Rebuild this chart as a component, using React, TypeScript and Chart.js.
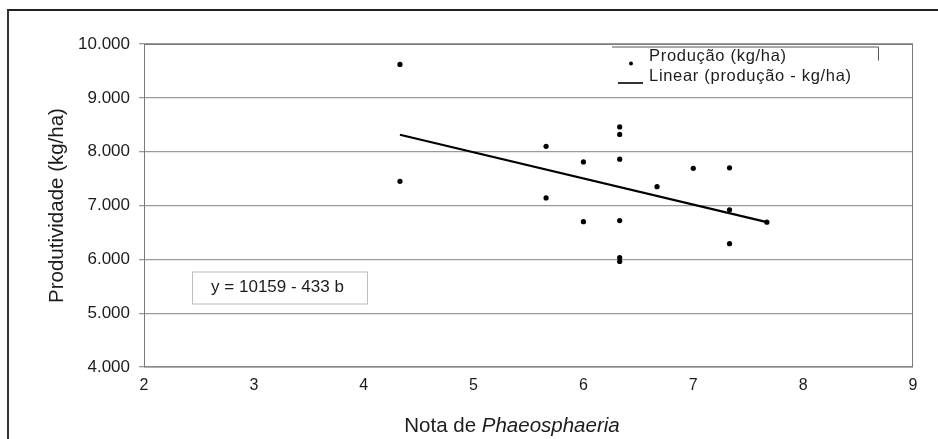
import React, { useEffect, useRef } from 'react';
import { Chart, registerables } from 'chart.js';

Chart.register(...registerables);

// ---- data ----
const notaX = [4.33, 4.33, 5.66, 5.66, 6.0, 6.0, 6.33, 6.33, 6.33, 6.33, 6.33, 6.33, 6.67, 7.0, 7.33, 7.33, 7.33, 7.67];
const producaoY = [9620, 7450, 8100, 7140, 7810, 6700, 8460, 8320, 7860, 6720, 6030, 5960, 7350, 7690, 7700, 6920, 6290, 6690];
const trendX = [4.33, 7.67];
const trendY = [8315, 6690];
const yTickLabels = ['4.000', '5.000', '6.000', '7.000', '8.000', '9.000', '10.000'];
const xTickLabels = ['2', '3', '4', '5', '6', '7', '8', '9'];
const seriesLabels = ['Produção (kg/ha)', 'Linear (produção - kg/ha)'];
const equationText = 'y = 10159 - 433 b';
const xTitleNormal = 'Nota de ';
const xTitleItalic = 'Phaeosphaeria';
const yTitle = 'Produtividade (kg/ha)';

const FONT = '"Liberation Sans", Arial, Helvetica, sans-serif';
const TEXT = '#1c1c1c';

const decorPlugin = {
  id: 'decor',
  afterDraw(chart: any) {
    const { ctx, chartArea: ca } = chart;
    ctx.save();
    // plot frame
    ctx.strokeStyle = '#7a7a7a';
    ctx.lineWidth = 1;
    ctx.strokeRect(ca.left + 0.5, ca.top + 0.5, ca.right - ca.left - 1, ca.bottom - ca.top - 0.5);

    // legend box
    const lx0 = ca.right - 301;
    const lx1 = ca.right - 35;
    const ly0 = ca.top + 2.5;
    const ly1 = ca.top + 53;
    ctx.fillStyle = '#ffffff';
    ctx.fillRect(lx0, ly0, lx1 - lx0, ly1 - ly0);
    ctx.strokeStyle = '#555';
    ctx.lineWidth = 1;
    ctx.beginPath();
    ctx.moveTo(lx0, ly0 + 0.5);
    ctx.lineTo(lx1 + 0.5, ly0 + 0.5);
    ctx.lineTo(lx1 + 0.5, ly0 + 14);
    ctx.stroke();

    // legend entries
    ctx.fillStyle = '#000';
    ctx.beginPath();
    ctx.arc(lx0 + 19, ly0 + 17, 2, 0, Math.PI * 2);
    ctx.fill();
    ctx.strokeStyle = '#000';
    ctx.lineWidth = 1.6;
    ctx.beginPath();
    ctx.moveTo(lx0 + 6, ly0 + 36.5);
    ctx.lineTo(lx0 + 31, ly0 + 36.5);
    ctx.stroke();
    ctx.fillStyle = TEXT;
    ctx.font = `16.5px ${FONT}`;
    ctx.textAlign = 'left';
    ctx.textBaseline = 'alphabetic';
    if ('letterSpacing' in ctx) (ctx as any).letterSpacing = '0.7px';
    ctx.fillText(seriesLabels[0], lx0 + 37, ly0 + 14.5);
    ctx.fillText(seriesLabels[1], lx0 + 37, ly0 + 34.5);
    if ('letterSpacing' in ctx) (ctx as any).letterSpacing = '0px';

    // equation box
    const ex = ca.left + 48;
    const ey = ca.top + 227.5;
    const ew = 175;
    const eh = 32;
    ctx.fillStyle = '#fff';
    ctx.fillRect(ex, ey, ew, eh);
    ctx.strokeStyle = '#bdbdbd';
    ctx.lineWidth = 1;
    ctx.strokeRect(ex + 0.5, ey + 0.5, ew, eh);
    ctx.fillStyle = TEXT;
    ctx.font = `17px ${FONT}`;
    ctx.textAlign = 'center';
    ctx.textBaseline = 'middle';
    ctx.fillText(equationText, ex + ew / 2 - 2, ey + eh / 2);

    // x axis title with italic genus name
    ctx.textBaseline = 'middle';
    ctx.textAlign = 'left';
    const fN = `20.5px ${FONT}`;
    const fI = `italic 20.5px ${FONT}`;
    ctx.font = fN;
    const w1 = ctx.measureText(xTitleNormal).width;
    ctx.font = fI;
    const w2 = ctx.measureText(xTitleItalic).width;
    const cx = ca.left + 368;
    const start = cx - (w1 + w2) / 2;
    const ty = 426;
    ctx.font = fN;
    ctx.fillText(xTitleNormal, start, ty);
    ctx.font = fI;
    ctx.fillText(xTitleItalic, start + w1, ty);
    ctx.restore();
  },
};

export default function App() {
  const canvasRef = useRef<HTMLCanvasElement | null>(null);

  useEffect(() => {
    const canvas = canvasRef.current;
    if (!canvas) return;
    const chart = new Chart(canvas, {
      type: 'scatter',
      data: {
        datasets: [
          {
            label: seriesLabels[0],
            data: notaX.map((x, i) => ({ x, y: producaoY[i] })),
            backgroundColor: '#000',
            borderColor: '#000',
            pointRadius: 2.6,
            pointBorderWidth: 0,
            showLine: false,
            order: 2,
          },
          {
            label: seriesLabels[1],
            data: trendX.map((x, i) => ({ x, y: trendY[i] })),
            borderColor: '#000',
            backgroundColor: '#000',
            borderWidth: 2.2,
            pointRadius: 0,
            showLine: true,
            order: 1,
          },
        ],
      },
      options: {
        responsive: false,
        animation: false,
        events: [],
        layout: { padding: { left: 41, right: 25, top: 44, bottom: 42 } },
        plugins: {
          legend: { display: false },
          tooltip: { enabled: false },
          title: { display: false },
        },
        scales: {
          x: {
            type: 'linear',
            min: 2,
            max: 9,
            afterFit: (s: any) => { s.height = 30; },
            ticks: {
              stepSize: 1,
              padding: 9,
              color: TEXT,
              font: { family: FONT, size: 16 },
              maxRotation: 0,
              callback: (v: any) => xTickLabels[Math.round(Number(v) - 2)] ?? '',
            },
            grid: { display: false, drawTicks: false },
            border: { display: false },
          },
          y: {
            type: 'linear',
            min: 4000,
            max: 10000,
            afterFit: (s: any) => { s.width = 103; },
            ticks: {
              stepSize: 1000,
              padding: 9,
              color: TEXT,
              font: { family: FONT, size: 17 },
              callback: (v: any) => yTickLabels[Math.round((Number(v) - 4000) / 1000)] ?? '',
            },
            grid: { color: '#9a9a9a', lineWidth: 1.3, tickLength: 5 },
            border: { display: false },
            title: {
              display: true,
              text: yTitle,
              color: TEXT,
              font: { family: FONT, size: 20.5 },
              padding: { top: 4, bottom: 4 },
            },
          },
        },
      },
      plugins: [decorPlugin],
    });
    return () => chart.destroy();
  }, []);

  return (
    <div style={{ position: 'fixed', left: 0, top: 0, width: 938, height: 439, background: '#fff', overflow: 'hidden' }}>
      <canvas ref={canvasRef} width={938} height={439} style={{ position: 'absolute', left: 0, top: 0 }} />
      <div
        style={{
          position: 'absolute',
          left: 7,
          top: 9,
          width: 940,
          height: 440,
          borderTop: '2px solid #222',
          borderLeft: '2px solid #333',
          pointerEvents: 'none',
        }}
      />
    </div>
  );
}
